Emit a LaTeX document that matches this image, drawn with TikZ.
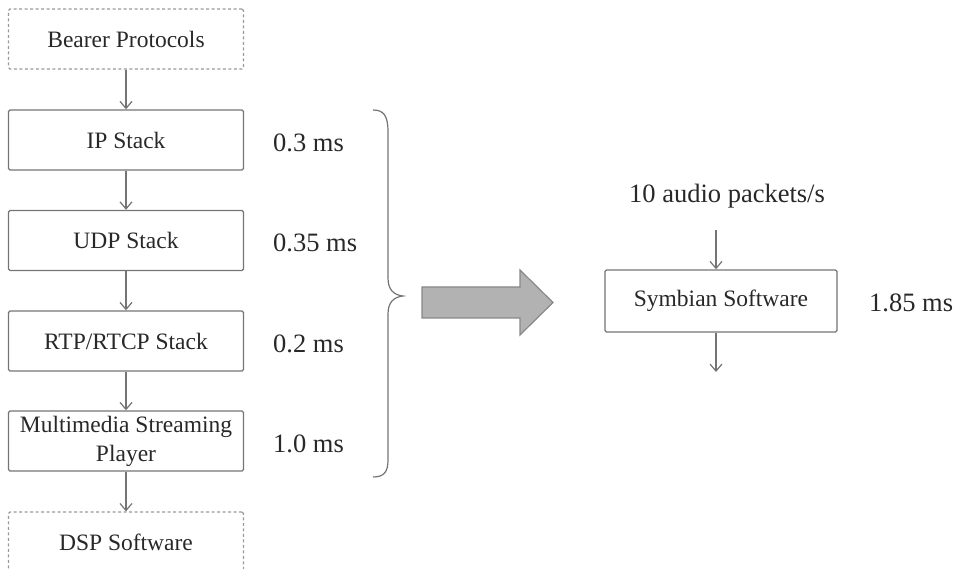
\documentclass[tikz,border=0pt]{standalone}
\usepackage{fontspec}
\setmainfont{Liberation Serif}
\usetikzlibrary{arrows.meta}
\definecolor{linegray}{HTML}{747474}
\definecolor{txtgray}{HTML}{282828}
\definecolor{arrowfill}{HTML}{B2B2B2}
\definecolor{arrowline}{HTML}{888888}
\tikzset{
  layerbox/.style={draw=linegray, line width=1.4pt, rounded corners=1.5pt, minimum width=235pt, minimum height=60pt, inner sep=0pt, align=center, text=txtgray, font=\fontsize{23.5}{29}\selectfont},
  extbox/.style={layerbox, dash pattern=on 3pt off 2.5pt, line width=1.2pt, draw=gray!80},
  flow/.style={draw=linegray, line width=1.2pt, -{Straight Barb[length=7pt,width=12pt,line width=1.2pt]}},
  timelabel/.style={anchor=west, text=txtgray, inner sep=0pt, font=\fontsize{26.5}{31}\selectfont},
}
\begin{document}
\begin{tikzpicture}[x=1pt,y=-1pt]
\useasboundingbox (0,0) rectangle (959,569);
\node[extbox] (bearer) at (126,39) {Bearer Protocols};
\node[layerbox] (ip) at (126,140) {IP Stack};
\node[layerbox] (udp) at (126,240.5) {UDP Stack};
\node[layerbox] (rtp) at (126,341) {RTP/RTCP Stack};
\node[layerbox] (mm) at (126,441) {Multimedia Streaming\\Player};
\node[extbox] (dsp) at (126,542) {DSP Software};
\draw[flow] (bearer) -- (ip);
\draw[flow] (ip) -- (udp);
\draw[flow] (udp) -- (rtp);
\draw[flow] (rtp) -- (mm);
\draw[flow] (mm) -- (dsp);
\node[timelabel] (t1) at (273,143) {0.3 ms};
\node[timelabel] (t2) at (273,243) {0.35 ms};
\node[timelabel] (t3) at (273,344) {0.2 ms};
\node[timelabel] (t4) at (273,444) {1.0 ms};
% brace
\draw[draw=linegray, line width=1.2pt] (373,110) .. controls (384,110) and (388,116) .. (388,132) -- (388,278) .. controls (388,290) and (394,295) .. (403,296) .. controls (394,297) and (388,302) .. (388,314) -- (388,460) .. controls (388,472) and (384,477) .. (373,477);
% big arrow
\draw[fill=arrowfill, draw=arrowline, line width=1.2pt] (422,287) -- (520,287) -- (520,270) -- (553,302.5) -- (520,335) -- (520,318) -- (422,318) -- cycle;
% right part
\node[text=txtgray, inner sep=0pt, font=\fontsize{26.5}{31}\selectfont] (pkts) at (727,196) {10 audio packets/s};
\node[layerbox, minimum width=232pt, minimum height=62pt] (sym) at (721,301) {Symbian Software};
\node[timelabel] (t5) at (869,303) {1.85 ms};
\coordinate (in) at (716,230);
\coordinate (out) at (716,372);
\draw[flow] (in) -- (in |- sym.north);
\draw[flow] (in |- sym.south) -- (out);
\end{tikzpicture}
\end{document}
